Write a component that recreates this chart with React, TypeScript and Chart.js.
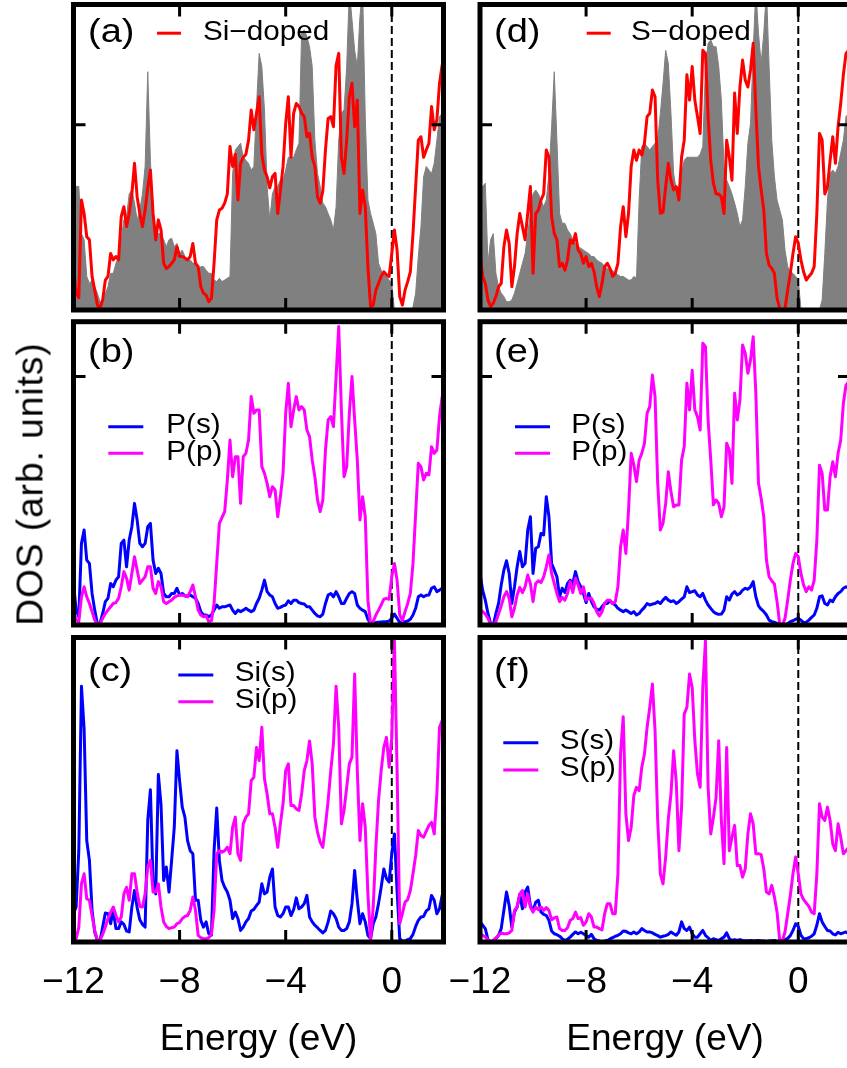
import React, { useEffect, useRef } from "react";
import { Chart, registerables } from "chart.js";

Chart.register(...registerables);

// ---------------- data ----------------
const ENERGY = [
  -12, -11.9, -11.8, -11.7, -11.6, -11.5, -11.4, -11.3, -11.2, -11.1,
  -11, -10.9, -10.8, -10.7, -10.6, -10.5, -10.4, -10.3, -10.2, -10.1,
  -10, -9.9, -9.8, -9.7, -9.6, -9.5, -9.4, -9.3, -9.2, -9.1,
  -9, -8.9, -8.8, -8.7, -8.6, -8.5, -8.4, -8.3, -8.2, -8.1,
  -8, -7.9, -7.8, -7.7, -7.6, -7.5, -7.4, -7.3, -7.2, -7.1,
  -7, -6.9, -6.8, -6.7, -6.6, -6.5, -6.4, -6.3, -6.2, -6.1,
  -6, -5.9, -5.8, -5.7, -5.6, -5.5, -5.4, -5.3, -5.2, -5.1,
  -5, -4.9, -4.8, -4.7, -4.6, -4.5, -4.4, -4.3, -4.2, -4.1,
  -4, -3.9, -3.8, -3.7, -3.6, -3.5, -3.4, -3.3, -3.2, -3.1,
  -3, -2.9, -2.8, -2.7, -2.6, -2.5, -2.4, -2.3, -2.2, -2.1,
  -2, -1.9, -1.8, -1.7, -1.6, -1.5, -1.4, -1.3, -1.2, -1.1,
  -1, -0.9, -0.8, -0.7, -0.6, -0.5, -0.4, -0.3, -0.2, -0.1,
  0, 0.1, 0.2, 0.3, 0.4, 0.5, 0.6, 0.7, 0.8, 0.9,
  1, 1.1, 1.2, 1.3, 1.4, 1.5, 1.6, 1.7, 1.8, 1.9,
  2,
];

// (a) total DOS: undoped host (grey) and Si-doped (red)
const SI_HOST_DOS = [
  42.5, 40.4, 40.4, 25, 23, 11, 8.7, 9.8, 7.6, 5.5,
  2.7, 3.3, 5.5, 7.6, 12, 12, 15.3, 17.5, 23, 29.5,
  30.6, 38, 39.3, 35, 29.5, 32.7, 38, 47, 78, 49,
  31.6, 26.2, 25, 25, 23, 20.7, 23, 23.5, 20.7, 21.8,
  18.5, 19.6, 17.5, 16.4, 16.4, 15.3, 15.3, 13, 14.2, 14.2,
  13, 12, 12, 9.8, 9.3, 10.4, 9.3, 9.8, 10.4, 11,
  44.7, 52.4, 53.5, 54.6, 50, 49, 48, 45.8, 47, 66.6,
  84, 79.7, 65.5, 40.4, 29.5, 38, 40.4, 40.4, 42.5, 42.5,
  45.8, 50, 50, 50, 52.4, 54.6, 90.6, 91.7, 89.5, 86.2,
  79.7, 55.6, 44.7, 40.4, 35, 33.8, 31.6, 29.5, 26.2, 33.8,
  55.6, 64.4, 65.5, 79.7, 105, 95, 85, 79.7, 96, 105,
  63.3, 36, 31.6, 28.4, 25, 15.3, 13, 11.5, 11, 9.8,
  8.7, 0, 0, 0, 0, 0, 0, 0, 1, 5.5,
  17.5, 27.3, 43.6, 47, 45.8, 44.7, 48, 55.6, 63.3, 64.4,
  64.4,
];
const SI_DOPED_DOS = [
  14, 5.5, 4, 36, 31.6, 24, 23, 11, 6.5, 1.6,
  0.5, 3.3, 9.8, 11, 18.5, 16.4, 17.5, 16.4, 30.6, 33.8,
  27.3, 31.6, 38, 48, 37, 31.6, 27.3, 32.7, 40, 45.8,
  31.6, 23, 29.5, 26.2, 15.3, 13.6, 14.2, 15.3, 16.4, 20.7,
  17.5, 17.5, 17, 16.4, 17.5, 21.8, 15.3, 14.2, 7.6, 5.5,
  4.9, 2.7, 3.8, 15.3, 29.5, 32.7, 33.3, 35, 38, 53.5,
  47, 51, 36, 48, 50, 51, 55.6, 65.5, 59, 64.4,
  69.8, 51, 45.8, 43.6, 40, 43.6, 44.7, 31.6, 39, 47,
  61, 69.8, 50, 64.4, 67.6, 66.6, 64.4, 63.3, 56.7, 57.8,
  50, 47, 37, 35, 39, 52.4, 62.7, 63.3, 60, 80,
  84, 50, 44.7, 55.6, 69.8, 74.2, 60, 68.7, 31.6, 39.3,
  33.8, 14.2, 1.1, 1.6, 6.5, 8.7, 11, 12.5, 11.5, 11,
  18.5, 26.2, 19.6, 4.4, 1.6, 6.5, 9.3, 12.5, 25.1, 40.4,
  55.6, 56.7, 50, 52.4, 54.6, 66.6, 59, 62.2, 74.2, 80.2,
  80.7,
];

// (d) total DOS: undoped host (grey) and S-doped (red)
const S_HOST_DOS = [
  40.4, 40.4, 41.5, 15.3, 23, 25, 12, 7.6, 5.5, 4.4,
  2.7, 2.7, 3.3, 5.5, 8.7, 12, 15.3, 18.5, 25, 31.6,
  38, 39.3, 38, 36, 33.8, 36, 44.7, 60, 78, 55.6,
  31.6, 28.4, 28.4, 26.2, 25, 23, 21.8, 20.7, 20.2, 19.6,
  19, 18.5, 17.5, 17.5, 16.4, 15.8, 15.3, 14.2, 13.6, 13,
  13, 12, 11.5, 11, 11, 10.4, 9.8, 9.8, 11, 10.4,
  36, 53.5, 54.6, 53.5, 52.4, 53.5, 54.6, 55.6, 64.4, 74,
  85, 80.7, 64.4, 44.7, 39.3, 40.4, 44.7, 49, 50, 50,
  50, 50, 50, 51, 53.5, 79.7, 87.3, 88.4, 86.2, 86.2,
  79.7, 68.7, 47, 42.5, 40.4, 38, 35, 31.6, 27.3, 29.5,
  40.4, 54.6, 61, 85, 105, 90.6, 80.7, 90.6, 105, 79.7,
  55.6, 43.6, 36, 32.7, 29.5, 19.6, 14.2, 12.5, 12, 11,
  9.8, 0.5, 0, 0, 0, 0, 0, 0, 0, 3.3,
  18.5, 36, 44.7, 45.8, 44.7, 47, 51.3, 55.6, 63.3, 64.4,
  64.4,
];
const S_DOPED_DOS = [
  18.5, 11, 8.7, 3.3, 1.1, 2.2, 4.4, 7.6, 8.7, 20.7,
  26.2, 21.8, 7.6, 14.2, 25, 31.6, 27.3, 23, 31.6, 40.4,
  12, 31.6, 32.7, 36, 38, 52.4, 50, 30.6, 25, 23,
  14.2, 15.3, 13, 16.4, 23, 21.8, 25, 19.6, 18.5, 15.3,
  17.5, 14.2, 15.3, 12.5, 7.6, 4.4, 8.7, 14.2, 15.3, 13.6,
  11, 12, 15.3, 27.3, 33.8, 24, 31.6, 47, 52.4, 49,
  52.4, 50.7, 54.6, 63.3, 64.4, 72, 69.8, 42.5, 31.6, 32,
  40.4, 48, 42.5, 39.3, 40.4, 36, 50, 55.6, 77, 68.7,
  79.7, 68.7, 63.3, 57.8, 85, 84, 63.3, 49, 41.5, 38,
  38, 37, 31.6, 55.6, 50, 42.5, 71, 57.8, 73, 81.8,
  75.3, 73, 78.6, 87.3, 65.5, 47, 39.3, 32.7, 18.5, 14.7,
  13.6, 12, 3.8, 0.5, 0, 0.5, 6.5, 12, 18.5, 24,
  21.8, 16.4, 12.5, 9.8, 11, 12, 14.2, 31.6, 57.8, 55.6,
  38, 40.4, 49, 56.7, 48, 60, 67.6, 77, 84, 85,
  85,
];

// (b) P partial DOS in Si-doped
const SI_CASE_P_S = [
  13.7, 4.9, 2.7, 26.9, 31.3, 21.4, 20.3, 10.4, 4.9, 0.5,
  0.5, 3.8, 7.7, 8.8, 13.7, 12.6, 14.8, 15.9, 26.9, 28,
  19.2, 28, 32.4, 40.1, 34.6, 26.9, 25.8, 26.9, 32.4, 33.5,
  21.4, 17, 18.7, 17, 10.4, 9.3, 9.3, 10.4, 10.4, 12.1,
  9.9, 10.4, 9.6, 9.6, 9.9, 9.3, 8.8, 7.1, 4.4, 3.3,
  3.3, 2.7, 3.3, 4.9, 6.6, 5.5, 6, 6, 6.3, 6.6,
  4.9, 3.8, 4.9, 4.4, 4.9, 5.5, 4.9, 4.4, 4.9, 7.1,
  8.8, 11.5, 14.8, 11, 9.9, 9.3, 7.1, 5.5, 5.8, 6.3,
  6.6, 8, 7.1, 8.2, 8.2, 7.4, 7.1, 6.9, 6, 6,
  4.9, 3.8, 3, 2.7, 3.6, 7.1, 9.9, 10.4, 9.3, 11,
  9.3, 7.1, 7.1, 8.8, 10.4, 11, 10.4, 6.6, 5.5, 4.9,
  4.4, 1.9, 0.5, 0.5, 0.8, 0.9, 1, 1.1, 1.1, 1.3,
  2.2, 3.6, 2.2, 0.8, 0.8, 1.1, 1.3, 1.9, 3.3, 5.5,
  9.3, 9.9, 9.3, 9.8, 9.9, 12.1, 12.6, 11, 11.5, 12.1,
  12.1,
];
const SI_CASE_P_P = [
  4.9, 1.6, 1.1, 9.3, 12.6, 9.3, 7.1, 4.4, 1.6, 0.3,
  0.5, 2.2, 3.8, 4.9, 6, 7.1, 7.4, 8.8, 12.6, 17.6,
  15.4, 11.5, 17, 22.5, 18.1, 13.7, 14.8, 15.9, 19.2, 19.2,
  12.1, 10.4, 14.3, 12.6, 7.7, 7.1, 7.7, 8.2, 9.1, 9.6,
  9.8, 9.9, 9.6, 9.3, 11, 13.2, 9.3, 4.9, 3.3, 2.7,
  3, 1.1, 1.4, 7.1, 20.3, 33.5, 35.5, 37.4, 47.8, 61,
  48.9, 55.5, 55.5, 40.1, 55.5, 56.6, 61, 75.3, 69.8, 70.9,
  70.9, 52.2, 50, 46.7, 42.3, 45.6, 44.5, 35.7, 42.3, 50,
  69.8, 79.7, 65.4, 70.9, 75.3, 70.9, 72, 70.9, 64.3, 62.1,
  54.4, 48.9, 41.2, 37.4, 41.2, 57.7, 67.6, 68.7, 65.4, 81.9,
  98.4, 70.9, 48.9, 52.2, 69.8, 81.9, 67.6, 54.4, 34.6, 42.3,
  35.7, 8.2, 0.5, 1.1, 3.3, 4.9, 6.6, 8.5, 8.8, 8.5,
  15.9, 20.3, 14.8, 3.3, 1.4, 4.4, 7.1, 10.4, 20.3, 36.8,
  53.3, 52.2, 47.8, 50, 49.5, 58.8, 56.6, 57.7, 68.7, 75.3,
  76.4,
];

// (e) P partial DOS in S-doped
const S_CASE_P_S = [
  17, 11.5, 8.2, 3.8, 0.5, 0, 3.8, 7.1, 13.2, 18.1,
  21.2, 17, 7.1, 12.6, 19.2, 24.2, 19.2, 20.3, 31.3, 35.7,
  17, 25.3, 25.8, 30.2, 29.7, 42.3, 35.7, 20.3, 18.1, 15.9,
  9.3, 12.1, 10.7, 13.7, 14.8, 13.7, 17.6, 14.3, 12.6, 10.4,
  7.4, 10.4, 7.7, 6, 5.2, 4.9, 6, 7.1, 7.1, 8,
  7.1, 6.6, 5.5, 4.9, 4.4, 4.9, 4.4, 3.8, 4.4, 3.3,
  3.8, 4.9, 5.8, 7.1, 6.6, 6.9, 7.1, 7.7, 7.1, 8.2,
  9.1, 8.2, 7.7, 8, 7.1, 7.7, 8.5, 9.3, 12.6, 10.7,
  11, 11.3, 9.9, 9.3, 10.4, 8.2, 6.6, 5.5, 4.4, 3.8,
  3.5, 3.6, 4.9, 9.3, 8.2, 10.2, 11, 9.9, 10.4, 11.5,
  12.1, 11.8, 12.6, 14.3, 9.3, 6.3, 5.2, 4.4, 3.3, 1.6,
  1.1, 0.9, 0.5, 0.3, 0, 0, 0.5, 1.1, 1.4, 1.9,
  2.2, 1.6, 0.8, 0.9, 1.6, 2.5, 3.3, 5.5, 9.3, 9.6,
  7.1, 6.6, 8.2, 7.7, 9.3, 10.4, 11, 12.1, 12.6, 12.1,
  12.1,
];
const S_CASE_P_P = [
  4.9, 4.4, 3.6, 2.2, 0.3, 0.3, 1.1, 3.6, 6.3, 9.3,
  11, 8.8, 2.7, 5.5, 9.9, 12.4, 10.7, 12.6, 16.5, 13.7,
  7.7, 13.7, 14.6, 14, 15.9, 19.2, 23.1, 17, 13.7, 10.4,
  7.7, 9.1, 8.2, 10.4, 14.3, 10.7, 15.4, 13.2, 10.4, 12.6,
  8.2, 8.8, 8.8, 7.1, 4.4, 3, 4.4, 7.1, 8.2, 8.2,
  7.1, 7.7, 12.6, 25.8, 31.3, 23.6, 37.9, 56.6, 52.7, 47.3,
  54.4, 56.6, 59.9, 69.8, 72, 82.4, 75.3, 46.7, 31.3, 33.5,
  40.1, 50.5, 43.9, 39, 39.6, 39.6, 54.4, 58.8, 79.7, 70.9,
  84, 70.9, 68.7, 64.3, 92.9, 91.8, 67.6, 54.4, 39.6, 41.2,
  40.1, 35.7, 38.9, 59.9, 57.7, 46.7, 76.4, 67.6, 74.2, 92.3,
  89.6, 83, 87.4, 95, 76.4, 46.7, 41.8, 35.7, 21.4, 15.9,
  14.6, 13.5, 7.7, 0.3, 0, 2.2, 8.2, 14.8, 20.3, 23.6,
  22.5, 17, 13.2, 11, 12.6, 11.5, 14.8, 28, 52.7, 50,
  37.9, 37.9, 48.9, 53.8, 48.9, 56.6, 61, 73.1, 79.1, 80.2,
  80.2,
];

// (c) Si partial DOS
const SI_S = [
  9.3, 11.5, 30, 84, 70, 33.3, 26.8, 10.4, 3.3, 0.5,
  0.3, 4.9, 9.5, 9.3, 6, 10.4, 4.4, 4.4, 6.6, 5.8,
  3.6, 3.3, 11.5, 16.9, 11.3, 7.3, 5.8, 4.9, 40, 50,
  19.1, 15.8, 55, 45, 20.2, 24.6, 16.4, 26.8, 37.7, 62.8,
  53, 44.3, 41, 33.3, 30, 29, 13.7, 13.7, 7.1, 4.9,
  6.6, 2.7, 2.2, 30, 44, 26.8, 20.2, 18, 16.4, 13.7,
  7.7, 9.8, 7.7, 3.8, 4.9, 6.6, 7.7, 10.2, 10.7, 12,
  13.1, 19.1, 15.8, 16.4, 21.3, 24, 11.5, 8.7, 8.2, 9.3,
  11.5, 11.5, 8.7, 10.6, 14.5, 10.9, 11.5, 12.6, 15.3, 8.2,
  6.6, 5.5, 4.7, 3.8, 3, 3.8, 6.6, 10.2, 9.3, 7.7,
  4.9, 3.8, 3.8, 4.4, 6.6, 12.6, 23.5, 13.7, 6, 9.3,
  6.6, 2.2, 1.1, 6, 8.2, 12.6, 18, 24, 20.8, 19.7,
  29, 35.5, 16.9, 1.1, 0.2, 0.3, 0.8, 1.1, 2.5, 5.1,
  7.1, 8.2, 8.4, 10.2, 10.9, 15.3, 13.7, 9.3, 10.9, 15.3,
  15.8,
];
const SI_P = [
  3.3, 1.1, 4.9, 19.1, 22.4, 14.2, 13.7, 8.7, 3.8, 0.5,
  0.5, 2.5, 4.9, 7.7, 9.8, 11.5, 8.7, 6.6, 8.2, 15.8,
  18, 13.7, 22.4, 22.4, 16.4, 11.7, 11.5, 15.8, 24.6, 26.8,
  16.4, 16.4, 19.1, 11.5, 6.6, 5.1, 4.4, 4.7, 4.9, 6,
  6.4, 7.7, 8.4, 8.7, 10.4, 14.8, 10.4, 2.2, 1.4, 1.1,
  1.1, 1.4, 2.5, 10.4, 29, 30, 29.5, 30, 31.1, 29,
  37.7, 41, 29, 26.8, 38.8, 41, 42.1, 53, 54.1, 63.9,
  59.6, 70.5, 53.6, 48.6, 42.1, 42.1, 37.7, 31.1, 38.8, 45.4,
  56.3, 58.5, 44.8, 44.8, 43.7, 43.2, 48.6, 56.3, 59.6, 66,
  58.5, 41, 36.1, 32.8, 31.1, 38.3, 46.4, 56.3, 65, 84,
  70.5, 38.8, 43.2, 50.8, 58.5, 60.7, 88, 56.3, 33.3, 45.4,
  37.7, 15.8, 0.5, 11.5, 31.1, 46.4, 56.3, 63.9, 67.2, 57.4,
  67.2, 98.9, 56.3, 6, 9.3, 13.1, 13.9, 16.9, 22.4, 28.4,
  36.6, 35, 34.4, 36.4, 38.3, 39.3, 35.5, 48.6, 70.5, 72.7,
  72.7,
];

// (f) S partial DOS
const S_S = [
  6.6, 5.5, 4.4, 0.8, 0, 0.3, 1.1, 2.2, 4.4, 10.4,
  16.4, 12, 4.9, 9.8, 11.5, 15.6, 10.9, 16.4, 18, 12,
  10.2, 13.1, 13.7, 9.8, 9.1, 8.7, 7.1, 3.6, 2.7, 2.4,
  1.9, 1.1, 0.5, 0.9, 1.6, 2.5, 3.3, 2.7, 3.2, 2.7,
  2.1, 1.6, 2.5, 1.1, 0.5, 0.3, 0, 0.3, 0.5, 1,
  1.4, 1.9, 2.2, 2.7, 3.6, 3.5, 3, 2.7, 3.3, 2.7,
  3.3, 4.4, 3.8, 3.3, 3.3, 3, 2.5, 2.1, 1.6, 1.9,
  2.1, 2.5, 3.3, 2.7, 2.2, 3.3, 6.6, 4.4, 3.8, 4.9,
  2.7, 1.6, 1.6, 2.7, 3.8, 2.2, 1.4, 0.5, 1.1, 0.8,
  0.5, 1.1, 1.6, 3, 1.1, 0.5, 0.8, 0.5, 0.8, 0.5,
  0.4, 0.3, 0.5, 0.3, 0.4, 0.5, 0.3, 0.3, 0.2, 0.3,
  0.4, 0.5, 0.2, 0.3, 0.4, 0.8, 1.2, 2.1, 3.8, 6,
  5.1, 2.2, 1.1, 1.1, 1.4, 1.9, 2.7, 5.5, 9.3, 6.6,
  5.1, 3.8, 3.6, 2.7, 2.3, 3.2, 2.7, 3, 3.3, 2.7,
  2.7,
];
const S_P = [
  2.7, 2.2, 1.6, 0.8, 0, 0.5, 1.4, 2.2, 3, 2.7,
  2.7, 3, 3.8, 10.4, 11.5, 15.8, 16.9, 11.5, 15.8, 11.5,
  9.8, 11.5, 10.6, 11.5, 10.4, 11.3, 10.4, 7.3, 7.9, 8.2,
  4.4, 3.8, 3.8, 4.7, 7.1, 7.7, 9.8, 7.7, 8, 5.5,
  6.6, 9.3, 8.2, 4.9, 4.9, 4.4, 4, 9.3, 12.6, 12.6,
  9.3, 9.3, 22.4, 62, 74, 42.1, 33.3, 37.7, 48.1, 50.8,
  49.7, 57.4, 61.7, 70.5, 77, 84.7, 69.4, 39.9, 22.4, 19.1,
  27.9, 40.4, 48.6, 62.8, 52.5, 30, 44.3, 74.9, 77, 88,
  83.6, 66.1, 55.2, 50.8, 83.6, 98.9, 50.8, 35.5, 40.9, 47.5,
  66.1, 39.9, 25.7, 63.9, 30, 34.4, 38.3, 25.1, 25.1, 21.3,
  24, 35.5, 42.1, 38.8, 29, 29, 28.7, 24, 16.4, 15.8,
  18.6, 14.8, 9.8, 0.5, 0.5, 3.3, 9.3, 15.3, 22.4, 27.9,
  22.4, 15.8, 13.9, 12.8, 11.7, 9.8, 9.3, 22.4, 45.4, 41,
  39.9, 44.3, 39.9, 32.2, 30, 38.8, 34.4, 29, 30, 31.1,
  31.1,
];

const X_TICKS = [-12, -8, -4, 0];
const X_TICK_LABELS = ["\u221212", "\u22128", "\u22124", "0"];
const FERMI_LEVEL = 0;
const X_MIN = -12;
const X_MAX = 1.95;
const Y_MAX = 100;

// ---------------- styles / layout ----------------
const FONT = '"Liberation Sans", Arial, Helvetica, sans-serif';
const RED = "#ff0000";
const BLUE = "#0000ff";
const MAGENTA = "#ff00ff";
const GREY = "#808080";

const COL_AREA_LEFT = [73.5, 480];
const AREA_W = 370;
const ROW_AREA_TOP = [4.5, 321.7, 637.5];
const ROW_AREA_BOTTOM = [310, 625, 942];
const CANVAS_LEFT = [0, 420];
const CANVAS_W = [454, 440];
const CANVAS_TOP = [0, 316, 630];
const CANVAS_H = [316, 314, 432];
const AXIS_H = 119.5;

type Series = { label: string; data: number[]; color: string };
type PanelSpec = {
  key: string;
  tag: string;
  col: number;
  row: number;
  yTick: number | null;
  host?: number[];
  lines: Series[]; // legend order
  legend: { x1: number; x2: number; tx: number; ys: number[]; textDy: number };
  tagX: number;
  tagY: number;
};

const PANELS: PanelSpec[] = [
  {
    key: "a", tag: "(a)", col: 0, row: 0, yTick: 60.6, host: SI_HOST_DOS,
    lines: [{ label: "Si\u2212doped", data: SI_DOPED_DOS, color: RED }],
    legend: { x1: 83.5, x2: 107.5, tx: 129.5, ys: [28.7], textDy: -0.3 },
    tagX: 14.5, tagY: 28.5,
  },
  {
    key: "b", tag: "(b)", col: 0, row: 1, yTick: 81.9,
    lines: [
      { label: "P(s)", data: SI_CASE_P_S, color: BLUE },
      { label: "P(p)", data: SI_CASE_P_P, color: MAGENTA },
    ],
    legend: { x1: 34.8, x2: 69.8, tx: 92.8, ys: [105, 131.6], textDy: -1 },
    tagX: 14.5, tagY: 31,
  },
  {
    key: "c", tag: "(c)", col: 0, row: 2, yTick: null,
    lines: [
      { label: "Si(s)", data: SI_S, color: BLUE },
      { label: "Si(p)", data: SI_P, color: MAGENTA },
    ],
    legend: { x1: 104.8, x2: 139.8, tx: 161.2, ys: [37.5, 64.2], textDy: -1 },
    tagX: 14.5, tagY: 34,
  },
  {
    key: "d", tag: "(d)", col: 1, row: 0, yTick: 60.6, host: S_HOST_DOS,
    lines: [{ label: "S\u2212doped", data: S_DOPED_DOS, color: RED }],
    legend: { x1: 106.7, x2: 130.7, tx: 151, ys: [28.7], textDy: -0.3 },
    tagX: 14, tagY: 28.5,
  },
  {
    key: "e", tag: "(e)", col: 1, row: 1, yTick: 81.9,
    lines: [
      { label: "P(s)", data: S_CASE_P_S, color: BLUE },
      { label: "P(p)", data: S_CASE_P_P, color: MAGENTA },
    ],
    legend: { x1: 35, x2: 70, tx: 91.3, ys: [105, 131.6], textDy: -1 },
    tagX: 14, tagY: 31,
  },
  {
    key: "f", tag: "(f)", col: 1, row: 2, yTick: null,
    lines: [
      { label: "S(s)", data: S_S, color: BLUE },
      { label: "S(p)", data: S_P, color: MAGENTA },
    ],
    legend: { x1: 23.3, x2: 58.3, tx: 79.7, ys: [105.2, 132.5], textDy: -1 },
    tagX: 14, tagY: 34,
  },
];

// text drawn slightly wide, like the reference's glyphs
function wideText(ctx: any, text: string, x: number, y: number, size: number, sx: number) {
  ctx.save();
  ctx.font = `${size}px ${FONT}`;
  ctx.translate(x, y);
  ctx.scale(sx, 1);
  ctx.fillText(text, 0, 0);
  ctx.restore();
}

const framePlugin = {
  id: "frame",
  afterDatasetsDraw(chart: any, _args: any, o: any) {
    const { ctx, chartArea } = chart;
    const { left, right, top, bottom } = chartArea;
    const xs = chart.scales.x;
    const ys = chart.scales.y;
    ctx.save();
    ctx.strokeStyle = "#000";
    ctx.lineCap = "butt";
    ctx.lineWidth = 3;
    ctx.beginPath();
    for (const v of X_TICKS) {
      const px = xs.getPixelForValue(v);
      if (px <= left + 2 || px >= right - 2) continue;
      ctx.moveTo(px, top);
      ctx.lineTo(px, top + 12);
      ctx.moveTo(px, bottom);
      ctx.lineTo(px, bottom - 12);
    }
    if (o.yTick != null) {
      const py = ys.getPixelForValue(o.yTick);
      ctx.moveTo(left, py);
      ctx.lineTo(left + 12, py);
      ctx.moveTo(right, py);
      ctx.lineTo(right - 12, py);
    }
    ctx.stroke();
    ctx.lineWidth = 5;
    ctx.strokeRect(left, top, right - left, bottom - top);

    ctx.fillStyle = "#000";
    ctx.textAlign = "left";
    ctx.textBaseline = "middle";
    wideText(ctx, o.tag, left + o.tagX, top + o.tagY, 33, 1.15);

    o.lines.forEach((s: Series, i: number) => {
      const y = top + o.legend.ys[i];
      ctx.strokeStyle = s.color;
      ctx.lineWidth = 3;
      ctx.beginPath();
      ctx.moveTo(left + o.legend.x1, y);
      ctx.lineTo(left + o.legend.x2, y);
      ctx.stroke();
      ctx.fillStyle = "#000";
      wideText(ctx, s.label, left + o.legend.tx, y + o.legend.textDy, 27, 1.1);
    });
    ctx.restore();
  },
};

function Panel({ spec }: { spec: PanelSpec }) {
  const ref = useRef<HTMLCanvasElement | null>(null);
  useEffect(() => {
    const canvas = ref.current;
    if (!canvas) return;
    const { col, row } = spec;
    const isBottom = row === 2;
    const padLeft = COL_AREA_LEFT[col] - CANVAS_LEFT[col];
    const padRight = CANVAS_W[col] - padLeft - AREA_W;
    const padTop = ROW_AREA_TOP[row] - CANVAS_TOP[row];
    const areaH = ROW_AREA_BOTTOM[row] - ROW_AREA_TOP[row];
    const padBottom = CANVAS_H[row] - padTop - areaH - (isBottom ? AXIS_H : 0);

    const toPts = (vals: number[]) => ENERGY.map((e, i) => ({ x: e, y: vals[i] }));
    const datasets: any[] = [];
    // first dataset is drawn on top
    [...spec.lines].reverse().forEach((s) => {
      datasets.push({
        label: s.label,
        data: toPts(s.data),
        borderColor: s.color,
        borderWidth: 3,
        borderJoinStyle: "round",
        pointRadius: 0,
        fill: false,
        tension: 0,
      });
    });
    datasets.push({
      label: "Fermi level",
      data: [
        { x: FERMI_LEVEL, y: 0 },
        { x: FERMI_LEVEL, y: Y_MAX },
      ],
      borderColor: "#000",
      borderWidth: 2,
      borderDash: [8, 4],
      pointRadius: 0,
      fill: false,
    });
    if (spec.host) {
      datasets.push({
        label: "undoped",
        data: toPts(spec.host),
        borderColor: GREY,
        backgroundColor: GREY,
        borderWidth: 1,
        pointRadius: 0,
        fill: "origin",
        tension: 0,
      });
    }

    const xScale: any = {
      type: "linear",
      min: X_MIN,
      max: X_MAX,
      display: isBottom,
      grid: { display: false, drawTicks: false },
      border: { display: false },
      afterBuildTicks: (axis: any) => {
        axis.ticks = X_TICKS.map((v) => ({ value: v }));
      },
      ticks: {
        padding: 18.2,
        maxRotation: 0,
        minRotation: 0,
        autoSkip: false,
        color: "#000",
        font: { family: FONT, size: 37 },
        callback: (v: any) => {
          const i = X_TICKS.indexOf(Number(v));
          return i >= 0 ? X_TICK_LABELS[i] : "";
        },
      },
      title: {
        display: true,
        text: "Energy (eV)",
        color: "#000",
        font: { family: FONT, size: 37 },
        padding: { top: 0, bottom: 0 },
      },
    };
    if (isBottom) {
      xScale.afterFit = (axis: any) => {
        axis.height = AXIS_H;
      };
    }

    const chart = new Chart(canvas, {
      type: "line",
      data: { datasets },
      plugins: [framePlugin],
      options: {
        responsive: false,
        animation: false,
        events: [],
        layout: { padding: { left: padLeft, right: padRight, top: padTop, bottom: padBottom } },
        plugins: {
          legend: { display: false },
          tooltip: { enabled: false },
          frame: { tag: spec.tag, tagX: spec.tagX, tagY: spec.tagY, yTick: spec.yTick, lines: spec.lines, legend: spec.legend },
        } as any,
        scales: {
          x: xScale,
          y: { type: "linear", min: 0, max: Y_MAX, display: false },
        },
      } as any,
    });
    return () => chart.destroy();
  }, [spec]);

  return (
    <canvas
      ref={ref}
      width={CANVAS_W[spec.col]}
      height={CANVAS_H[spec.row]}
      style={{
        position: "absolute",
        left: CANVAS_LEFT[spec.col],
        top: CANVAS_TOP[spec.row],
        width: CANVAS_W[spec.col],
        height: CANVAS_H[spec.row],
      }}
    />
  );
}

export default function App() {
  return (
    <div
      style={{
        position: "fixed",
        left: 0,
        top: 0,
        width: 847,
        height: 1068,
        overflow: "hidden",
        background: "#fff",
      }}
    >
      {PANELS.map((p) => (
        <Panel key={p.key} spec={p} />
      ))}
      <div
        style={{
          position: "absolute",
          left: 30,
          top: 484,
          transform: "translate(-50%, -50%) rotate(-90deg)",
          font: `37px ${FONT}`,
          lineHeight: 1,
          letterSpacing: "1px",
          whiteSpace: "nowrap",
          color: "#000",
        }}
      >
        DOS (arb. units)
      </div>
    </div>
  );
}
